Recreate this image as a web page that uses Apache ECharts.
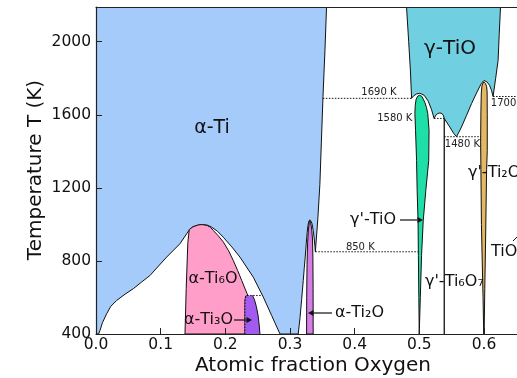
<!DOCTYPE html>
<html>
<head>
<meta charset="utf-8">
<script src="https://cdn.jsdelivr.net/npm/echarts@6/dist/echarts.min.js"></script>
<style>
  html, body { margin: 0; padding: 0; background: #fff; }
  #chart { width: 517px; height: 378px; }
</style>
</head>
<body>
<div id="chart"></div>
<script>
// Ti–O phase fields, as [atomic fraction O, temperature K] boundary vertices.
const alphaTi = [[0,2190],[0.3565,2190],[0.3540,1950],[0.3510,1700],[0.3485,1450],[0.3462,1220],[0.3430,1030],[0.3392,850],[0.3385,880],[0.3375,920],[0.3359,967],[0.3340,1005],[0.3320,1020],[0.3308,1025],[0.3292,1018],[0.3278,995],[0.3265,955],[0.3250,890],[0.3235,820],[0.3220,760],[0.3205,693],[0.3180,590],[0.3155,490],[0.3127,400],[0.2845,400],[0.2716,501],[0.2587,602],[0.2432,711],[0.2226,821],[0.2100,877],[0.1968,930],[0.1880,962],[0.1788,985],[0.1720,996],[0.1640,999],[0.1580,996],[0.1500,987],[0.1445,971],[0.1298,894],[0.1092,821],[0.0834,720],[0.0700,683],[0.0577,648],[0.0450,618],[0.0320,584],[0.0230,552],[0.0165,511],[0.0100,462],[0.0062,420],[0.0040,400],[0,400]];
const alphaTi6O = [[0.1376,400],[0.1395,650],[0.1420,900],[0.1442,972],[0.1500,987],[0.1580,997],[0.1640,999],[0.1720,994],[0.1770,984],[0.1813,967],[0.1890,938],[0.1970,903],[0.2050,856],[0.2122,803],[0.2190,748],[0.2253,693],[0.2300,652],[0.2335,622],[0.2350,611],[0.2315,608],[0.2303,585],[0.2303,400]];
const alphaTi3O = [[0.2303,400],[0.2303,560],[0.2310,595],[0.2325,607],[0.2350,611],[0.2420,611],[0.2450,588],[0.2480,550],[0.2505,505],[0.2522,455],[0.2535,400]];
const alphaTi2O = [[0.3256,400],[0.3258,600],[0.3263,780],[0.3272,900],[0.3285,975],[0.3298,1010],[0.3308,1020],[0.3320,1008],[0.3335,975],[0.3348,920],[0.3354,820],[0.3357,650],[0.3358,400]];
const gammaTiO = [[0.4802,2190],[0.4835,2000],[0.4862,1840],[0.4880,1690],[0.4910,1703],[0.4957,1714],[0.5008,1718],[0.5074,1707],[0.5137,1675],[0.5190,1627],[0.5228,1580],[0.5255,1598],[0.5285,1607],[0.5317,1610],[0.5350,1607],[0.5370,1598],[0.5385,1580],[0.5430,1555],[0.5471,1533],[0.5533,1497],[0.5575,1480],[0.5652,1533],[0.5730,1597],[0.5807,1661],[0.5884,1719],[0.5930,1752],[0.5960,1772],[0.6000,1788],[0.6045,1780],[0.6085,1762],[0.6115,1734],[0.6140,1700],[0.6180,1800],[0.6218,1898],[0.6235,2040],[0.6255,2190]];
const gammaPrimeTiO = [[0.4998,400],[0.4992,600],[0.4985,830],[0.4980,1020],[0.4966,1186],[0.4957,1350],[0.4941,1515],[0.4931,1607],[0.4936,1650],[0.4950,1685],[0.4975,1702],[0.5005,1707],[0.5040,1700],[0.5085,1668],[0.5110,1640],[0.5130,1607],[0.5150,1515],[0.5145,1350],[0.5100,1186],[0.5060,1020],[0.5034,830],[0.5015,600]];
const gammaPrimeTi2O = [[0.5995,400],[0.5985,600],[0.5972,800],[0.5960,1000],[0.5952,1300],[0.5948,1450],[0.5952,1620],[0.5958,1720],[0.5968,1758],[0.5985,1775],[0.6002,1779],[0.6022,1772],[0.6040,1755],[0.6048,1725],[0.6050,1600],[0.6050,1405],[0.6040,1300],[0.6032,1100],[0.6022,860],[0.6012,650],[0.6002,400]];

// Line compound γ'-Ti6O7
const ti6o7Line = [[0.5385,400],[0.5385,1580]];

// Invariant temperatures (K) and the composition span of each dotted isotherm
const isothermT    = [1690, 1580, 1480, 1700, 850];
const isothermFrom = [0.3508, 0.5228, 0.5385, 0.6140, 0.3392];
const isothermTo   = [0.4880, 0.5385, 0.5948, 0.6510, 0.4985];

// Axis ticks
const xTicks = [0, 0.1, 0.2, 0.3, 0.4, 0.5, 0.6];
const yTicks = [400, 800, 1200, 1600, 2000];

const FONT = '"DejaVu Sans", "Liberation Sans", sans-serif';
const INK = '#111';

const fields = [
  { pts: alphaTi,        fill: '#a5cbfb' },
  { pts: alphaTi6O,      fill: '#ff9fc9' },
  { pts: alphaTi2O,      fill: '#d67ee6' },
  { pts: gammaTiO,       fill: '#70cfe0' },
  { pts: gammaPrimeTiO,  fill: '#1edfa8' },
  { pts: gammaPrimeTi2O, fill: '#e5b864' }
];

function fieldSeries(field, z) {
  return {
    type: 'custom', coordinateSystem: 'cartesian2d', silent: true, clip: true, z: z,
    data: [[0.3, 1000]],
    renderItem: function (params, api) {
      return {
        type: 'polygon',
        shape: { points: field.pts.map(function (p) { return api.coord(p); }) },
        style: { fill: field.fill, stroke: field.stroke === undefined ? INK : field.stroke, lineWidth: 1 }
      };
    }
  };
}

function lineSeries(pts, style, z) {
  return {
    type: 'custom', coordinateSystem: 'cartesian2d', silent: true, clip: true, z: z,
    data: [[0.3, 1000]],
    renderItem: function (params, api) {
      return {
        type: 'polyline',
        shape: { points: pts.map(function (p) { return api.coord(p); }) },
        style: Object.assign({ fill: null, stroke: INK, lineWidth: 1 }, style)
      };
    }
  };
}

// label placement for each isotherm: anchor composition, pixel offset, alignment
const isoLabelLayout = [
  { x: 0.4103, dy: -6,  align: 'left'  },
  { x: 0.4893, dy: 0,   align: 'right' },
  { x: 0.5394, dy: 8,   align: 'left'  },
  { x: 0.6105, dy: 7,   align: 'left'  },
  { x: 0.3864, dy: -4.5, align: 'left' }
];

const isothermSeries = {
  type: 'custom', coordinateSystem: 'cartesian2d', silent: true, clip: false, z: 6,
  data: isothermT.map(function (t, i) { return [isothermFrom[i], t]; }),
  renderItem: function (params, api) {
    const i = params.dataIndex;
    const a = api.coord([isothermFrom[i], isothermT[i]]);
    const b = api.coord([isothermTo[i], isothermT[i]]);
    const lay = isoLabelLayout[i];
    const l = api.coord([lay.x, isothermT[i]]);
    return {
      type: 'group',
      children: [
        { type: 'line', shape: { x1: a[0], y1: a[1], x2: b[0], y2: b[1] },
          style: { stroke: INK, lineWidth: 1, lineDash: [1.5, 1.5] } },
        { type: 'text', x: l[0], y: l[1] + lay.dy,
          style: { text: isothermT[i] + ' K', fill: '#222', font: '10px ' + FONT,
                   align: lay.align, verticalAlign: 'middle' } }
      ]
    };
  }
};

const series = [];
fields.forEach(function (f, i) { series.push(fieldSeries(f, 2 + i * 0.01)); });
// α-Ti3O: filled without outline, solid right edge, dotted left/top edge
series.push(fieldSeries({ pts: alphaTi3O, fill: '#a35af0', stroke: null }, 2.5));
series.push(lineSeries(alphaTi3O.slice(5), {}, 3));
series.push(lineSeries(alphaTi3O.slice(0, 5).concat([[0.2577, 611]]), { lineDash: [1.5, 1.5] }, 3));
series.push(lineSeries(ti6o7Line, { lineWidth: 1.3 }, 3));
series.push(isothermSeries);

function label(text, x, y, size, align) {
  return { type: 'text', x: x, y: y, z: 20,
    style: { text: text, fill: INK, font: size + 'px ' + FONT, align: align || 'center', verticalAlign: 'middle' } };
}
// annotation arrow with a filled head at (x2, y2)
function arrow(x1, y1, x2, y2) {
  const dx = x2 - x1, dy = y2 - y1, len = Math.sqrt(dx * dx + dy * dy);
  const ux = dx / len, uy = dy / len, h = 5.5, w = 3;
  return [
    { type: 'line', z: 20, shape: { x1: x1, y1: y1, x2: x2 - ux * h, y2: y2 - uy * h },
      style: { stroke: INK, lineWidth: 1.2 } },
    { type: 'polygon', z: 20,
      shape: { points: [[x2, y2], [x2 - ux * h - uy * w, y2 - uy * h + ux * w], [x2 - ux * h + uy * w, y2 - uy * h - ux * w]] },
      style: { fill: INK } }
  ];
}

const graphics = [
  label('α-Ti', 212, 128, 19),
  label('γ-TiO', 450, 49, 20),
  label('α-Ti₆O', 213, 279, 16),
  label('α-Ti₃O', 233, 320, 16, 'right'),
  label('α-Ti₂O', 335, 313, 16, 'left'),
  label("γ'-TiO", 396, 220, 16, 'right'),
  label("γ'-Ti₆O₇", 425, 282, 16, 'left'),
  label("γ'-Ti₂O", 468, 173, 16, 'left'),
  label('TiO', 491, 252, 16, 'left'),
  { type: 'line', z: 20, shape: { x1: 513, y1: 241, x2: 517, y2: 237 }, style: { stroke: INK, lineWidth: 1 } },
  { type: 'text', x: 313, y: 366, z: 20,
    style: { text: 'Atomic fraction Oxygen', fill: INK, font: '20px ' + FONT, align: 'center', verticalAlign: 'middle' } },
  { type: 'text', x: 36, y: 170, rotation: Math.PI / 2, z: 20,
    style: { text: 'Temperature T (K)', fill: INK, font: '20px ' + FONT, align: 'center', verticalAlign: 'middle' } }
].concat(arrow(234, 320, 252, 320), arrow(332, 313, 308, 313), arrow(400, 220, 423, 220));

const option = {
  animation: false,
  backgroundColor: '#fff',
  grid: { left: 96, right: 0, top: 7, bottom: 44 },
  xAxis: [{
    type: 'value', min: 0, max: 0.651, z: 10,
    axisLine: { show: true, lineStyle: { color: '#222', width: 1.2 } },
    axisTick: { show: true, inside: true, length: 6, customValues: xTicks, lineStyle: { color: '#222', width: 1 } },
    axisLabel: { customValues: xTicks, margin: 3, color: INK, fontFamily: FONT, fontSize: 15.5,
                 formatter: function (v) { return v.toFixed(1); } },
    splitLine: { show: false }
  }, {
    type: 'value', position: 'top', min: 0, max: 0.651, z: 10,
    axisLine: { show: true, lineStyle: { color: '#222', width: 1.2 } },
    axisTick: { show: false }, axisLabel: { show: false }, splitLine: { show: false }
  }],
  yAxis: {
    type: 'value', min: 400, max: 2190, z: 10,
    axisLine: { show: true, lineStyle: { color: '#222', width: 1.2 } },
    axisTick: { show: true, inside: true, length: 6, customValues: yTicks, lineStyle: { color: '#222', width: 1 } },
    axisLabel: { customValues: yTicks, margin: 5, color: INK, fontFamily: FONT, fontSize: 15.5,
                 formatter: function (v) { return String(Math.round(v)); } },
    splitLine: { show: false }
  },
  series: series,
  graphic: graphics
};

const chart = echarts.init(document.getElementById('chart'), null, { renderer: 'canvas' });
chart.setOption(option);
</script>
</body>
</html>
